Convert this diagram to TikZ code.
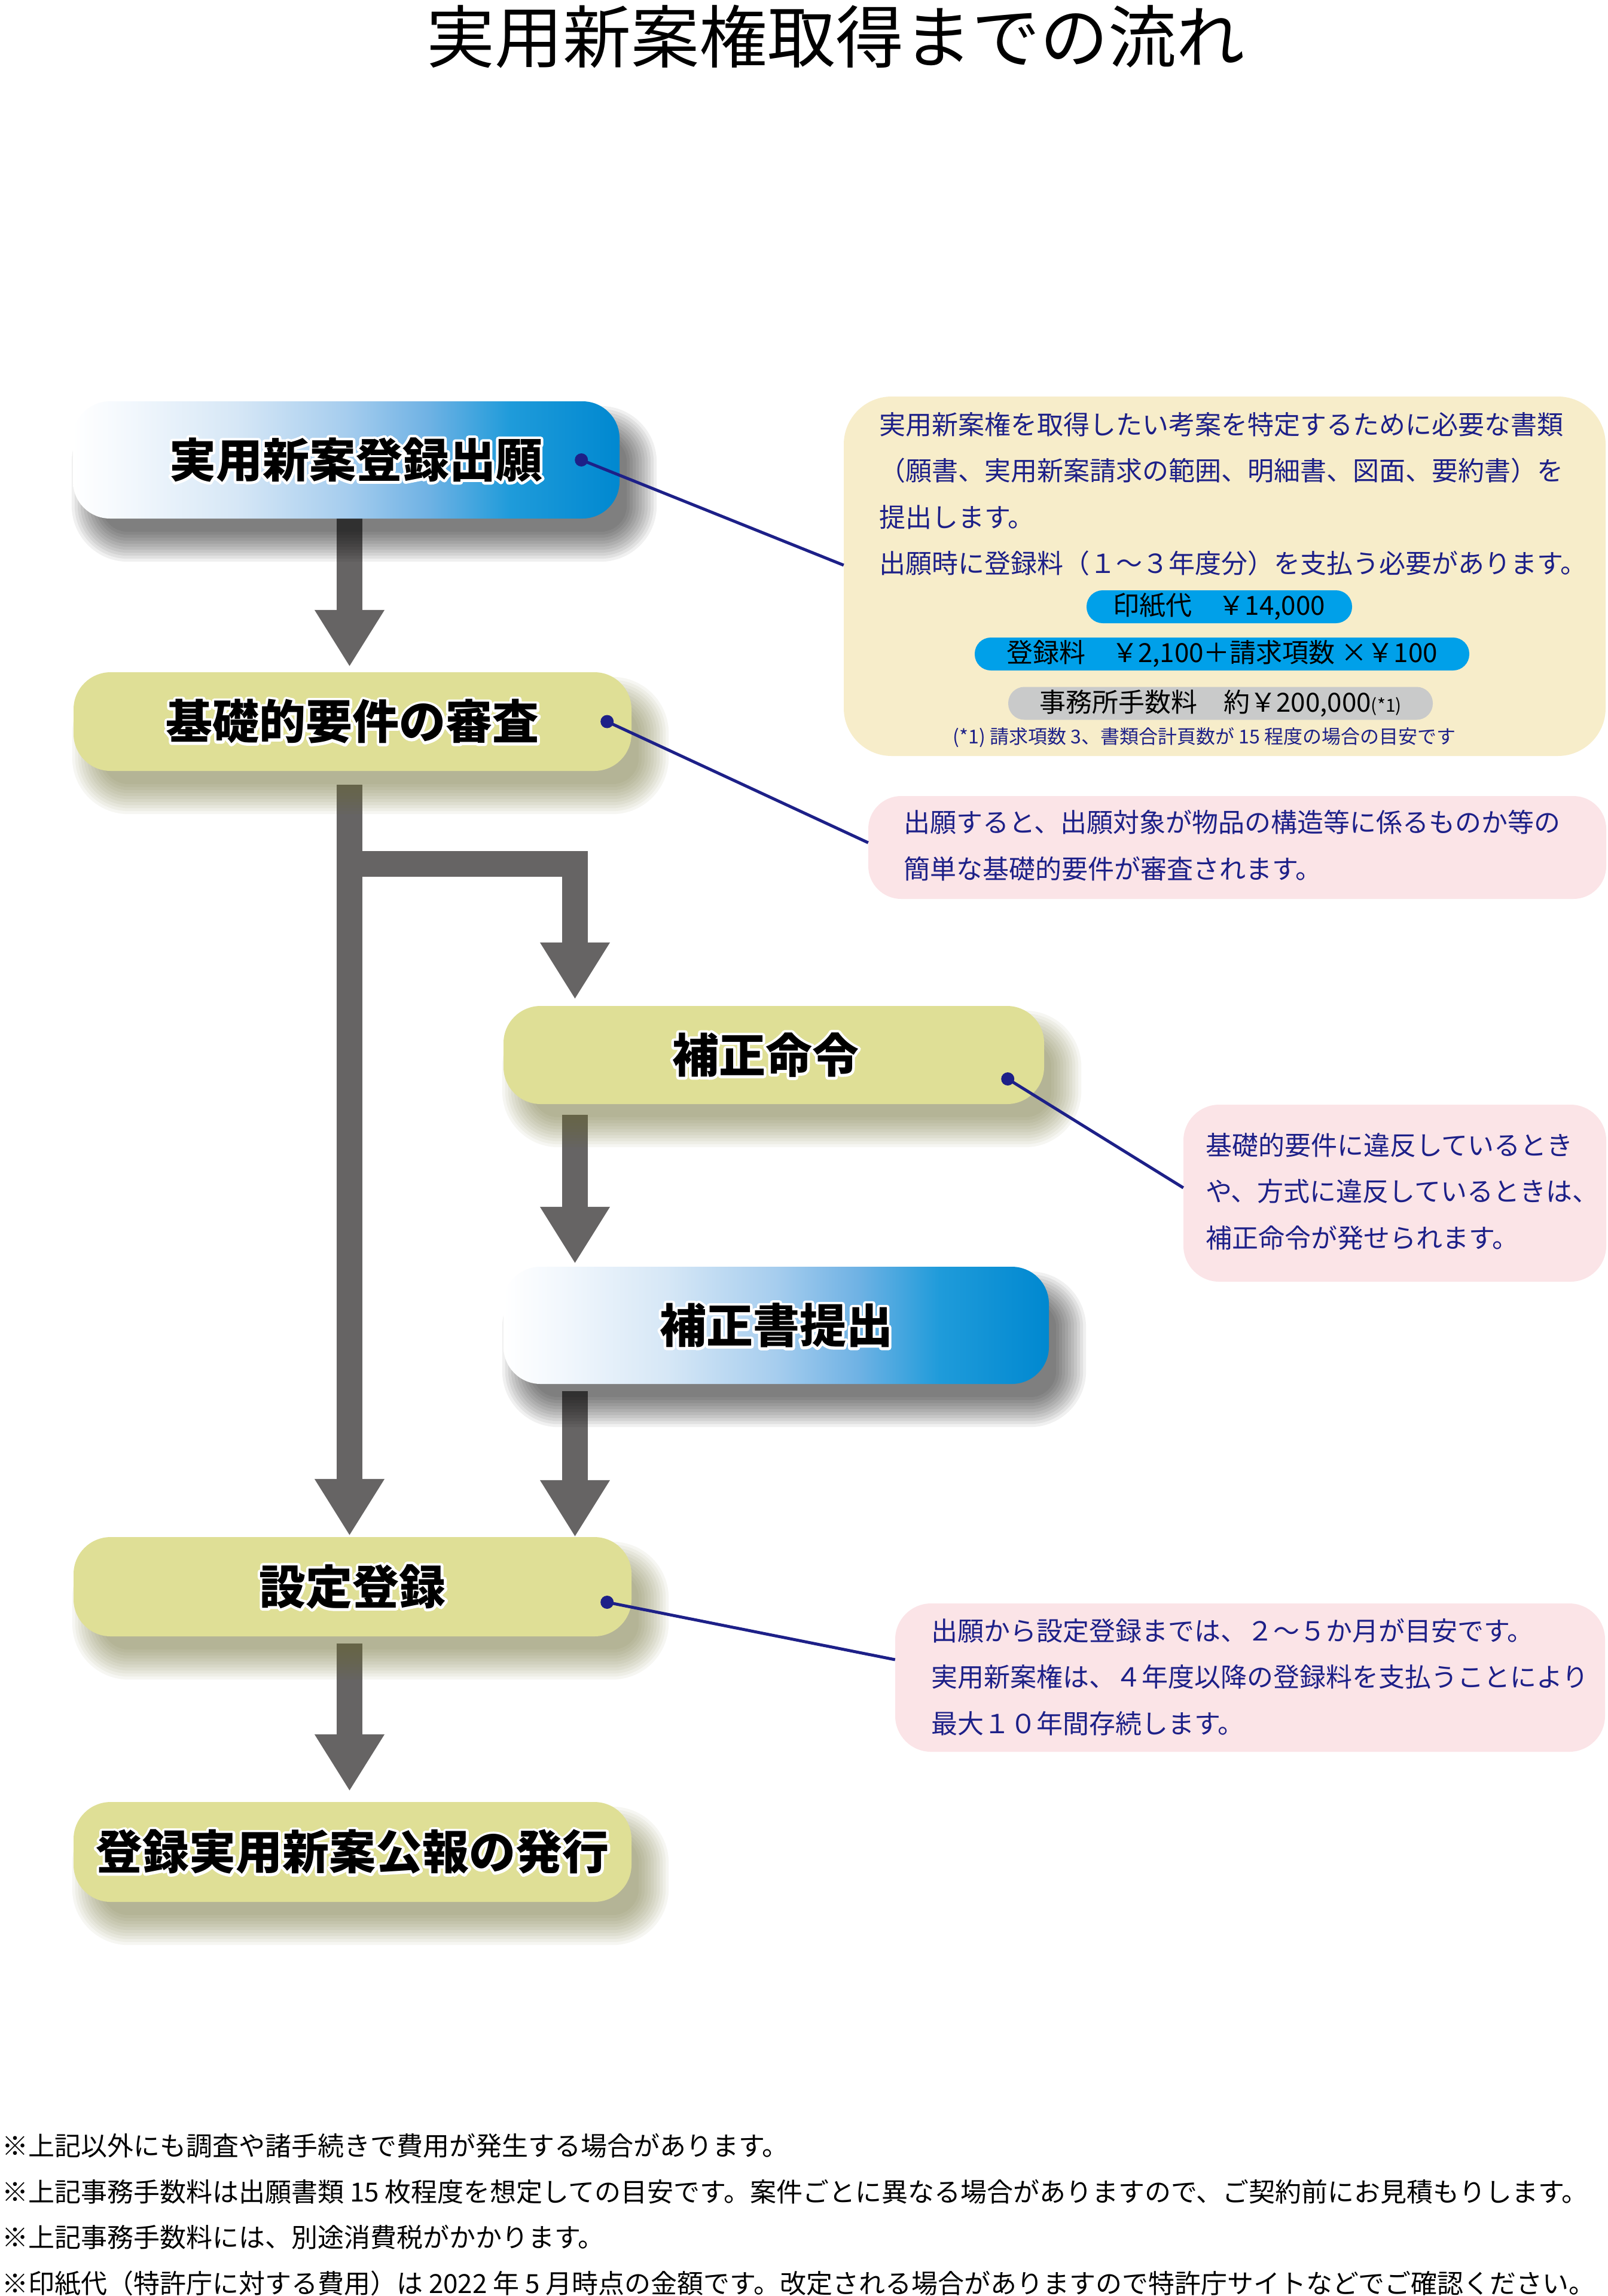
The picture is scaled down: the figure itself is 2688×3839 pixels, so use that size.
\documentclass[tikz,border=0pt]{standalone}
\usepackage{fontspec}
\usetikzlibrary{arrows.meta}
\newfontfamily\jp{Noto Sans CJK JP}
\definecolor{navy}{HTML}{1D2088}
\definecolor{khaki}{HTML}{DFDF96}
\definecolor{khakishadow}{HTML}{6E6E30}
\definecolor{cream}{HTML}{F7EDCA}
\definecolor{pinkbox}{HTML}{FBE4E7}
\definecolor{pillblue}{HTML}{00A0E9}
\definecolor{pillgray}{HTML}{C9CACA}
\definecolor{arrowgray}{HTML}{666464}
\definecolor{bgA}{HTML}{F3F8FD}
\definecolor{bgB}{HTML}{D6E7F6}
\definecolor{bgC}{HTML}{A6CDEE}
\definecolor{bgD}{HTML}{6FB2E4}
\definecolor{bgE}{HTML}{1F9BDA}
\definecolor{bgF}{HTML}{0088D0}
\pgfdeclarehorizontalshading{bluegrad}{100bp}{color(0bp)=(white); color(25bp)=(white); color(30bp)=(bgA); color(40bp)=(bgB); color(50bp)=(bgC); color(57.5bp)=(bgD); color(65bp)=(bgE); color(75bp)=(bgF); color(100bp)=(bgF)}
\pgfdeclarelayer{bg}
\pgfsetlayers{bg,main}
\newcommand\outlined[1]{\leavevmode\rlap{\special{pdf:literal direct 2 Tr 9 w 1 j 1 1 1 RG}\textcolor{white}{#1}\special{pdf:literal direct 0 Tr 0 0 0 RG}}#1}
\newcommand\softshadow[3]{%
  \foreach \k in {0,...,10}{%
    \pgfmathsetmacro\xa{48-5*\k}\pgfmathsetmacro\ya{-58+5*\k}%
    \pgfmathsetmacro\xb{12+5*\k}\pgfmathsetmacro\yb{-22-5*\k}%
    \pgfmathsetmacro\rr{#3-18+5*\k}%
    \fill[#2, fill opacity=0.06, rounded corners=\rr pt]
      ([shift={(\xa pt,\ya pt)}]#1.north west) rectangle ([shift={(\xb pt,\yb pt)}]#1.south east);
  }}
\tikzset{
  flowbox/.style={font=\jp\bfseries\fontsize{78}{90}\selectfont, text=black, rounded corners=62pt, inner sep=0pt},
  khakibox/.style={flowbox, fill=khaki},
  bluebox/.style={flowbox, shading=bluegrad},
  flowarrow/.style={draw=arrowgray, line width=43pt, line join=miter, -{Triangle[width=110pt,length=95pt]}},
  note/.style={font=\jp\fontsize{44}{77.5}\selectfont, text=navy, align=left, anchor=west, inner sep=0pt},
  pill/.style={rounded corners=27pt, minimum height=55pt, inner sep=0pt, text=black, font=\jp\fontsize{44}{50}\selectfont},
  lead/.style={draw=navy, line width=5pt},
  leaddot/.style={fill=navy},
  calloutbox/.style={inner sep=0pt},
}
\begin{document}
\begin{tikzpicture}[x=1pt,y=-1pt]
\useasboundingbox (0,0) rectangle (2688,3839);
% title
\node[font=\jp\fontsize{114}{120}\selectfont, inner sep=0pt] (title) at (1397,61) {実用新案権取得までの流れ};
% flow boxes
\node[bluebox, minimum width=914pt, minimum height=196pt] (b1) at (579,769) {\hspace*{32pt}\outlined{実用新案登録出願}};
\node[khakibox, minimum width=933pt, minimum height=165pt] (b2) at (589.5,1206.5) {\outlined{基礎的要件の審査}};
\node[khakibox, minimum width=904pt, minimum height=164pt] (b3) at (1294,1764) {\outlined{補正命令}\hspace*{28pt}};
\node[bluebox, minimum width=912pt, minimum height=196pt] (b4) at (1298,2216) {\outlined{補正書提出}};
\node[khakibox, minimum width=933pt, minimum height=166pt] (b5) at (589.5,2653) {\outlined{設定登録}};
\node[khakibox, minimum width=933pt, minimum height=167pt] (b6) at (589.5,3096.5) {\outlined{登録実用新案公報の発行}};
% helper coordinates
\coordinate (mx) at (584.5,0);
\coordinate (rx) at (961.5,0);
\coordinate (br) at (584.5,1444.5);
% background: arrows and shadows
\begin{pgfonlayer}{bg}
\fill[white] (0,0) rectangle (2688,3839);
\draw[flowarrow, shorten >=9pt] (b1.south -| mx) -- (b2.north -| mx);
\draw[flowarrow, shorten <=23pt, shorten >=2pt] (b2.south -| mx) -- (b5.north -| mx);
\draw[flowarrow, shorten >=11pt] (br) -- (br -| rx) -- (b3.north -| rx);
\draw[flowarrow, shorten <=18pt, shorten >=5pt] (b3.south -| rx) -- (b4.north -| rx);
\draw[flowarrow, shorten <=12pt] (b4.south -| rx) -- (b5.north -| rx);
\draw[flowarrow, shorten <=12pt, shorten >=18pt] (b5.south -| mx) -- (b6.north -| mx);
\softshadow{b1}{black}{62}
\softshadow{b2}{khakishadow}{62}
\softshadow{b3}{khakishadow}{62}
\softshadow{b4}{black}{62}
\softshadow{b5}{khakishadow}{62}
\softshadow{b6}{khakishadow}{62}
\end{pgfonlayer}
% callouts
\node[calloutbox, fill=cream, rounded corners=80pt, minimum width=1274pt, minimum height=601pt] (cA) at (2048,963.5) {};
\node[calloutbox, fill=pinkbox, rounded corners=55pt, minimum width=1234pt, minimum height=172pt] (cB) at (2069,1417) {};
\node[calloutbox, fill=pinkbox, rounded corners=60pt, minimum width=707pt, minimum height=296pt] (cC) at (2332.5,1995) {};
\node[calloutbox, fill=pinkbox, rounded corners=60pt, minimum width=1187pt, minimum height=248pt] (cD) at (2090.5,2805) {};
% callout texts
\node[note] (tA) at (1470,826) {実用新案権を取得したい考案を特定するために必要な書類\\（願書、実用新案請求の範囲、明細書、図面、要約書）を\\提出します。\\出願時に登録料（１～３年度分）を支払う必要があります。};
\node[pill, fill=pillblue, minimum width=444pt] (p1) at (2039,1014.5) {印紙代　￥14,000};
\node[pill, fill=pillblue, minimum width=827pt] (p2) at (2043.5,1093.5) {登録料　￥2,100＋請求項数 ×￥100};
\node[pill, fill=pillgray, minimum width=710pt] (p3) at (2041,1176) {事務所手数料　約￥200,000{\fontsize{30}{30}\selectfont(*1)}};
\node[font=\jp\fontsize{32}{36}\selectfont, text=navy, inner sep=0pt] (fA) at (2014,1233) {(*1) 請求項数 3、書類合計頁数が 15 程度の場合の目安です};
\node[note] (tB) at (1511,1413.5) {出願すると、出願対象が物品の構造等に係るものか等の\\簡単な基礎的要件が審査されます。};
\node[note] (tC) at (2016,1992) {基礎的要件に違反しているとき\\や、方式に違反しているときは、\\補正命令が発せられます。};
\node[note] (tD) at (1557,2804) {出願から設定登録までは、２～５か月が目安です。\\実用新案権は、４年度以降の登録料を支払うことにより\\最大１０年間存続します。};
% leader lines
\coordinate (d1) at ([xshift=-64pt]b1.east);
\coordinate (d2) at ([xshift=-41pt]b2.east);
\coordinate (d3) at ([xshift=-61pt,yshift=-40pt]b3.east);
\coordinate (d4) at ([xshift=-41pt,yshift=-26pt]b5.east);
\draw[lead] (d1) -- ([yshift=18.5pt]cA.west);
\draw[lead] (d2) -- ([yshift=8pt]cB.west);
\draw[lead] (d3) -- ([yshift=9pt]cC.west);
\draw[lead] (d4) -- ([yshift=30pt]cD.west);
\fill[leaddot] (d1) circle (11pt);
\fill[leaddot] (d2) circle (11pt);
\fill[leaddot] (d3) circle (11pt);
\fill[leaddot] (d4) circle (11pt);
% footnotes
\node[font=\jp\fontsize{44}{76.7}\selectfont, align=left, anchor=west, inner sep=0pt] (foot) at (3,3703) {※上記以外にも調査や諸手続きで費用が発生する場合があります。\\※上記事務手数料は出願書類 15 枚程度を想定しての目安です。案件ごとに異なる場合がありますので、ご契約前にお見積もりします。\\※上記事務手数料には、別途消費税がかかります。\\※印紙代（特許庁に対する費用）は 2022 年 5 月時点の金額です。改定される場合がありますので特許庁サイトなどでご確認ください。};
\end{tikzpicture}
\end{document}
